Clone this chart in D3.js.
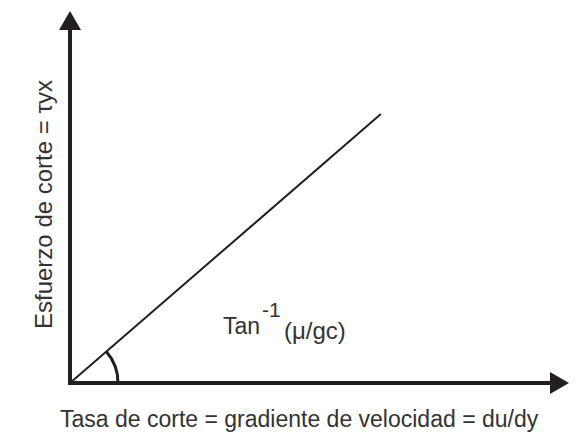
<!DOCTYPE html>
<html>
<head>
<meta charset="utf-8">
<script src="https://cdn.jsdelivr.net/npm/d3@7"></script>
<style>
  body { margin: 0; background: #fff; }
  text { font-family: "Liberation Sans", Arial, sans-serif; fill: #333; }
</style>
</head>
<body>
<svg id="chart" width="585" height="437"></svg>
<script>
// Data
const xDomain = [0, 10];
const yDomain = [0, 10];
const lineX = [0, 6.23];
const lineY = [0, 7.23];
const xLabel = "Tasa de corte = gradiente de velocidad = du/dy";
const yLabel = "Esfuerzo de corte = τyx";
const angleLabel = ["Tan", "-1", "(μ/gc)"];

const svg = d3.select("#chart");
const ink = "#231f20";

// Scales
const x = d3.scaleLinear().domain(xDomain).range([70, 569]);
const y = d3.scaleLinear().domain(yDomain).range([383, 11]);

// Axis lines (stop at the arrow bases)
svg.append("line")
    .attr("x1", x(0) - 2).attr("y1", y(0))
    .attr("x2", x(10) - 15).attr("y2", y(0))
    .attr("stroke", ink).attr("stroke-width", 4);

svg.append("line")
    .attr("x1", x(0)).attr("y1", y(0) + 2)
    .attr("x2", x(0)).attr("y2", y(10) + 15)
    .attr("stroke", ink).attr("stroke-width", 4);

// Arrow heads
svg.append("path")
    .attr("d", `M${x(10)},${y(0)} L${x(10) - 19},${y(0) - 11} L${x(10) - 19},${y(0) + 11} Z`)
    .attr("fill", ink);

svg.append("path")
    .attr("d", `M${x(0)},${y(10)} L${x(0) - 11},${y(10) + 19} L${x(0) + 11},${y(10) + 19} Z`)
    .attr("fill", ink);

// The straight line
const pts = lineX.map((d, i) => [x(d), y(lineY[i])]);
svg.append("path")
    .attr("d", d3.line()(pts))
    .attr("fill", "none")
    .attr("stroke", ink)
    .attr("stroke-width", 2);

// Angle arc
const ang = Math.atan2(pts[0][1] - pts[1][1], pts[1][0] - pts[0][0]);
const arc = d3.arc()
    .innerRadius(48).outerRadius(48)
    .startAngle(Math.PI / 2 - ang)
    .endAngle(Math.PI / 2);
svg.append("path")
    .attr("transform", `translate(${x(0)},${y(0)})`)
    .attr("d", arc())
    .attr("fill", "none")
    .attr("stroke", ink)
    .attr("stroke-width", 3);

// Angle label
const lab = svg.append("text").attr("x", 223).attr("y", 334).attr("font-size", 23);
lab.append("tspan").text(angleLabel[0]);
lab.append("tspan").attr("x", 262).attr("y", 317).attr("font-size", 21).text(angleLabel[1]);
lab.append("tspan").attr("x", 284).attr("y", 339).attr("font-size", 24).text(angleLabel[2]);

// Axis titles
svg.append("text")
    .attr("x", 60).attr("y", 427)
    .attr("font-size", 23)
    .text(xLabel);

svg.append("text")
    .attr("transform", "translate(52,329) rotate(-90)")
    .attr("font-size", 24)
    .text(yLabel);
</script>
</body>
</html>
